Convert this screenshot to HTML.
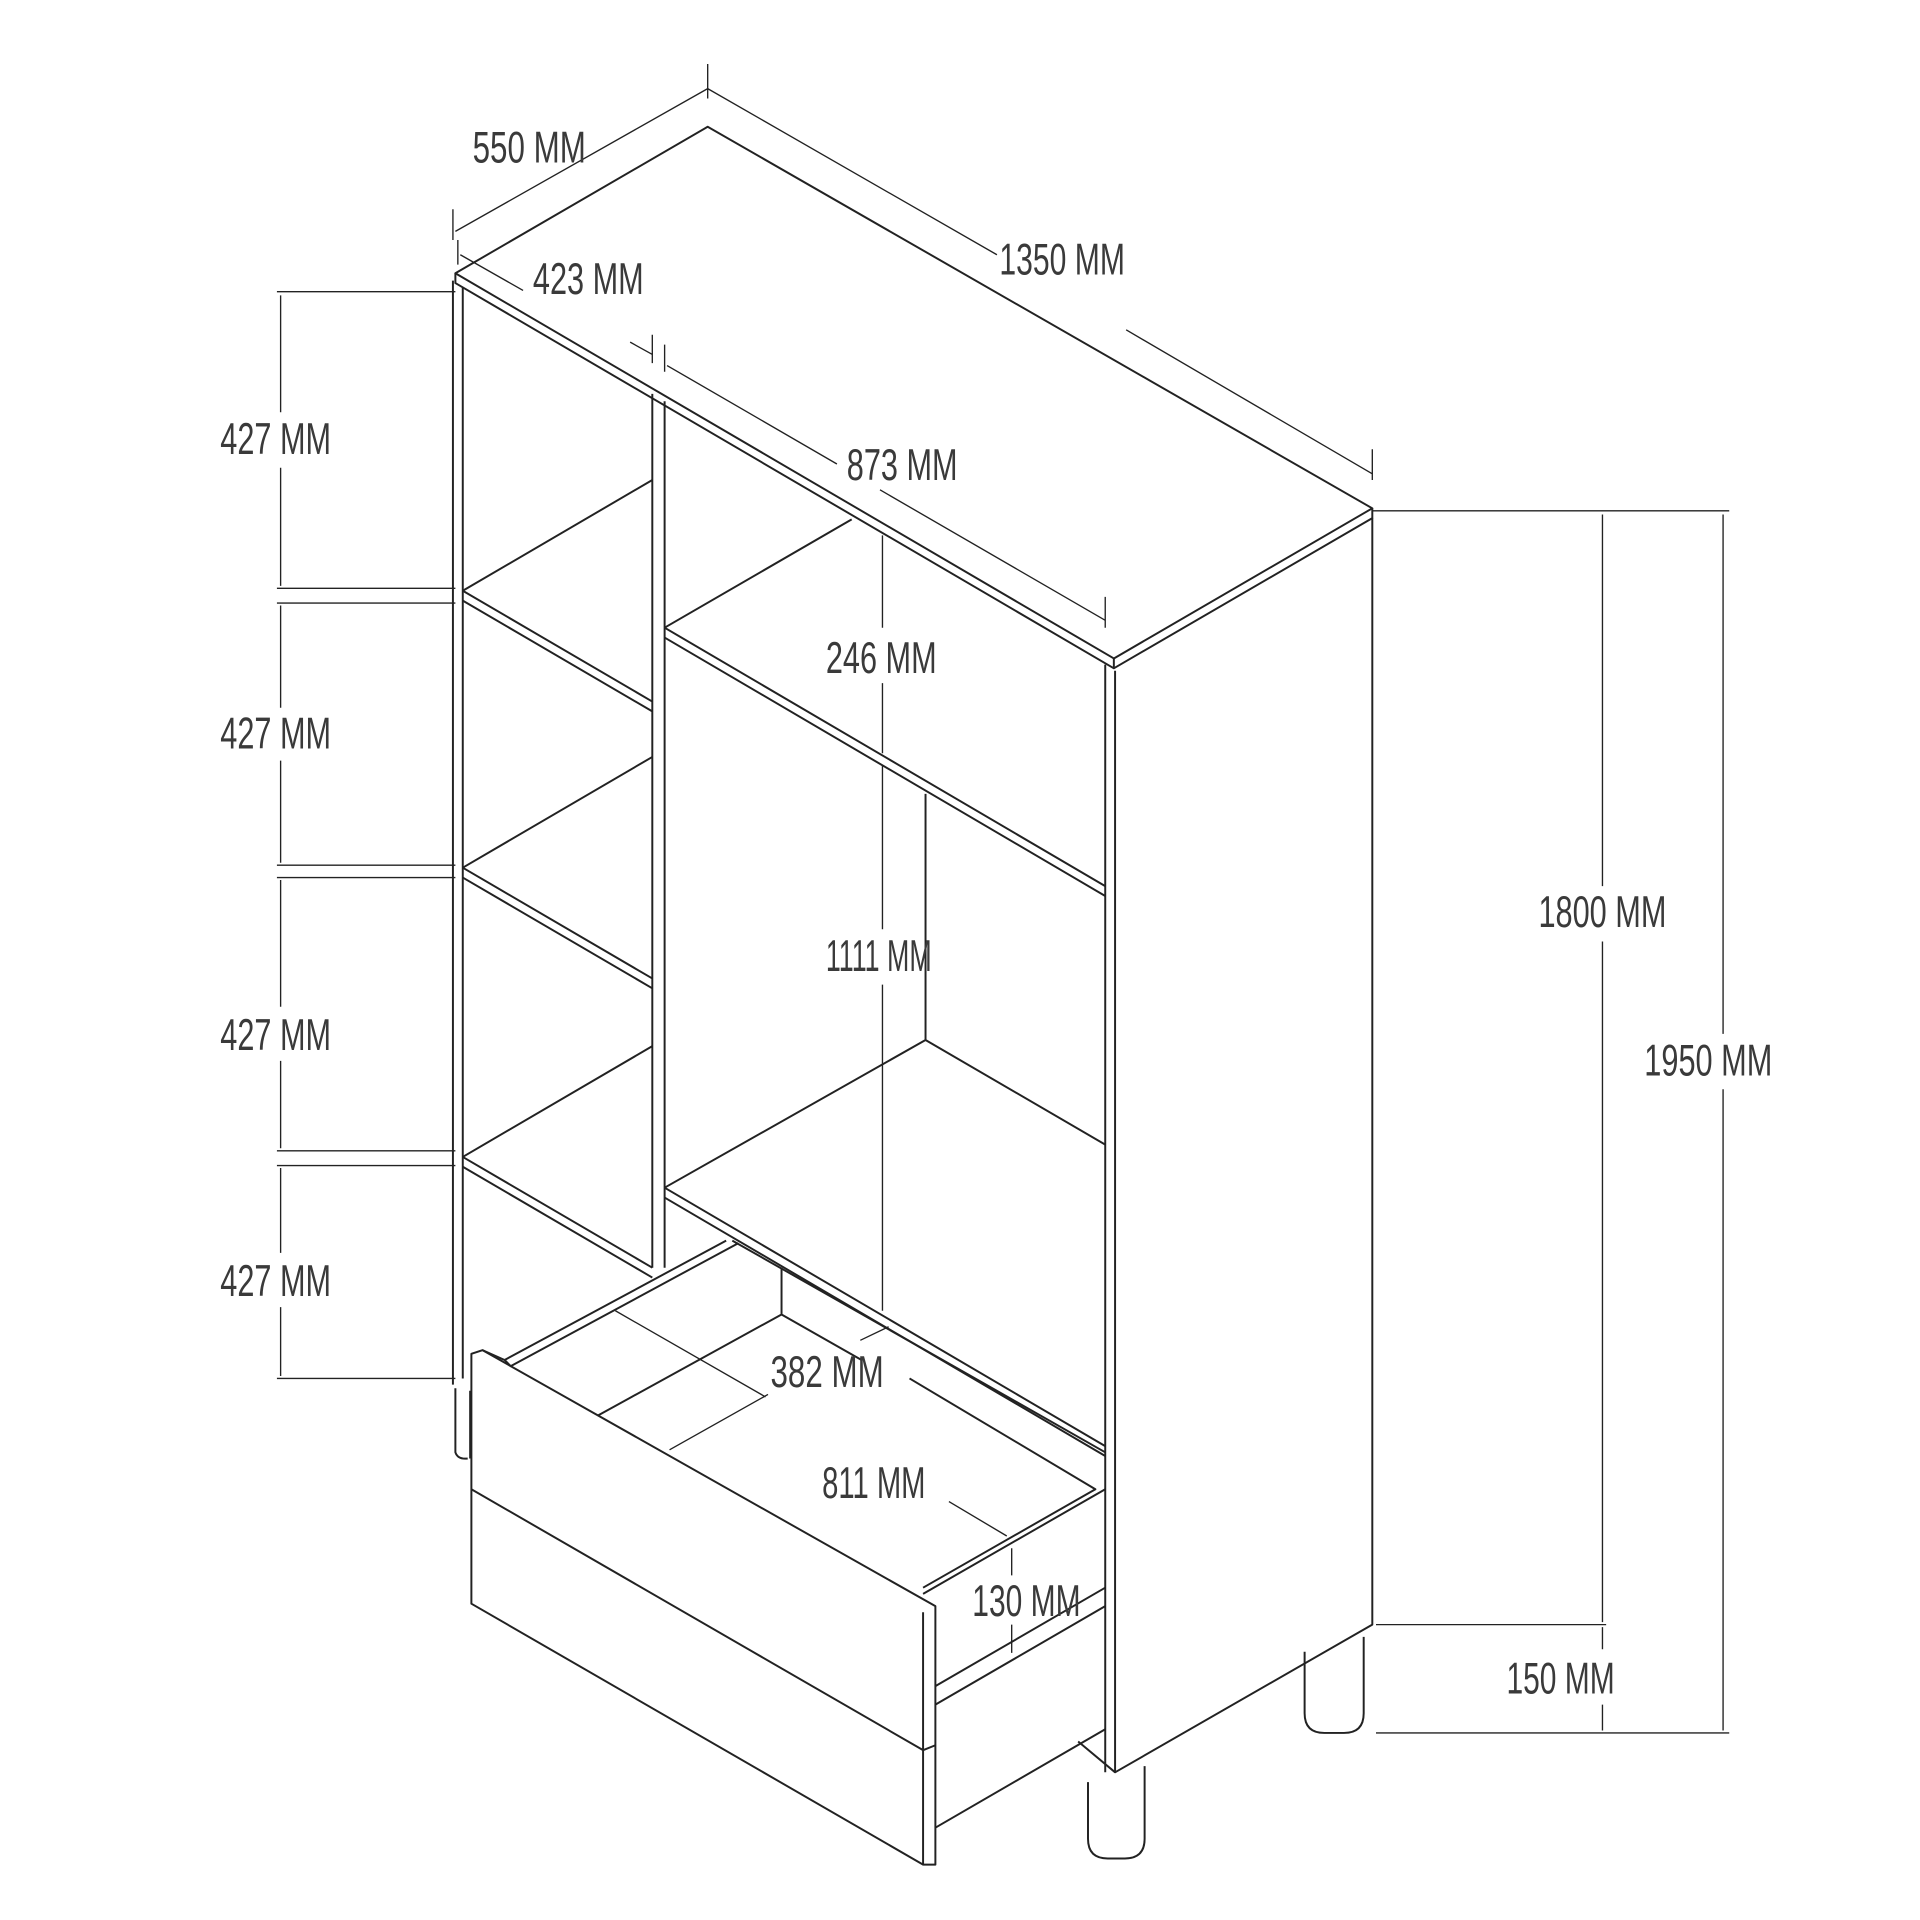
<!DOCTYPE html>
<html><head><style>html,body{margin:0;padding:0;background:#fff}svg{display:block}</style></head>
<body>
<svg width="1920" height="1920" viewBox="0 0 1560 1560" xmlns="http://www.w3.org/2000/svg">
<defs><marker id="a" viewBox="0 0 10 10" refX="10" refY="5" markerWidth="6" markerHeight="6" orient="auto-start-reverse"><path d="M0,1 L10,5 L0,9" fill="none" stroke="#222" stroke-width="1.2"/></marker></defs>
<g fill="none" stroke="#222" stroke-width="1.6" stroke-linejoin="round">
<path d="M370,222 L575,103 L1115,413 L905,535 Z" fill="#fff"/>
<path d="M370,222 L370,230 L905,543 L1115,421 L1115,413"/>
<path d="M905,535 L905,543"/>
<path d="M368,228 L368,1125 M376,234 L376,1120"/>
<path d="M530,320 L530,1030 M540,326 L540,1030"/>
<path d="M898,540 L898,1440 M906,545 L906,1440 L1115,1320 L1115,421"/>
<path d="M376,480 L530,570 M376,488 L530,578 M376,480 L530,390"/>
<path d="M376,705 L530,795 M376,713 L530,803 M376,705 L530,615"/>
<path d="M376,940 L530,1030 M376,948 L530,1038 M376,940 L530,850"/>
<path d="M540,510 L898,720 M540,518 L898,728 M540,510 L692,422"/>
<path d="M752,645 L752,845 L898,930 M540,965 L752,845 M540,965 L898,1175 M540,973 L898,1183"/>
<path d="M383,1100 L392,1097 L760,1305 L760,1515 L750,1515 L383,1303 Z" fill="#fff"/>
<path d="M750,1310 L750,1515 M383,1210 L750,1422 L760,1418"/>
<path d="M392,1097 L410,1105 L590,1008 M410,1105 L415,1110 L600,1010"/>
<path d="M595,1008 L898,1180"/>
<path d="M635,1030 L635,1068 L486,1150 M635,1068 L700,1105 M739,1120 L890,1210 L750,1290 M898,1210 L750,1295"/>
<path d="M760,1370 L898,1290 M760,1385 L898,1305 M760,1485 L898,1405 M876,1415 L906,1440"/>
<path d="M1060,1342 L1060,1392 Q1060,1408 1076,1408 L1092,1408 Q1108,1408 1108,1392 L1108,1330"/>
<path d="M884,1448 L884,1494 Q884,1510 900,1510 L914,1510 Q930,1510 930,1494 L930,1435"/>
<path d="M370,1128 L370,1180 Q372,1186 380,1185 M382,1130 L382,1185"/>
</g>
<g fill="none" stroke="#222" stroke-width="1.1">
<path d="M225,237 L370,237 M225,478 L370,478 M225,490 L370,490 M225,703 L370,703 M225,713 L370,713 M225,935 L370,935 M225,947 L370,947 M225,1120 L370,1120"/>
<path d="M228,240 L228,335 M228,380 L228,476"/>
<path d="M228,492 L228,575 M228,618 L228,701"/>
<path d="M228,715 L228,818 M228,862 L228,933"/>
<path d="M228,949 L228,1018 M228,1062 L228,1118"/>
<path d="M1115,415 L1405,415 M1118,1320 L1305,1320 M1118,1408 L1405,1408"/>
<path d="M1302,418 L1302,720 M1302,765 L1302,1318 M1302,1322 L1302,1340 M1302,1385 L1302,1406"/>
<path d="M1400,418 L1400,840 M1400,885 L1400,1406"/>
<path d="M368,170 L368,195 M575,52 L575,80 M1115,365 L1115,390 M372,195 L372,215 M530,272 L530,295 M540,280 L540,302 M898,485 L898,510"/>
<path d="M370,188 L575,72 M575,72 L810,207 M915,268 L1115,385"/>
<path d="M374,207 L425,236 M512,278 L530,288"/>
<path d="M542,297 L680,377 M715,398 L898,504"/>
<path d="M717,435 L717,510 M717,555 L717,612 M717,622 L717,755 M717,800 L717,1065"/>
<path d="M500,1065 L622,1135 M771,1220 L818,1248 M544,1178 L624,1133 M699,1089 L722,1078"/>
<path d="M822,1258 L822,1280 M822,1320 L822,1343"/>
</g>
<g font-family="'Liberation Sans Narrow','Liberation Sans',sans-serif" font-size="36" fill="#3a3a3a" text-anchor="middle" lengthAdjust="spacingAndGlyphs">
<text x="430" y="132" textLength="92" lengthAdjust="spacingAndGlyphs">550 MM</text>
<text x="863" y="223" textLength="102" lengthAdjust="spacingAndGlyphs">1350 MM</text>
<text x="478" y="239" textLength="90" lengthAdjust="spacingAndGlyphs">423 MM</text>
<text x="733" y="390" textLength="90" lengthAdjust="spacingAndGlyphs">873 MM</text>
<text x="716" y="547" textLength="90" lengthAdjust="spacingAndGlyphs">246 MM</text>
<text x="714" y="789" textLength="86" lengthAdjust="spacingAndGlyphs">1111 MM</text>
<text x="672" y="1127" textLength="92" lengthAdjust="spacingAndGlyphs">382 MM</text>
<text x="710" y="1217" textLength="84" lengthAdjust="spacingAndGlyphs">811 MM</text>
<text x="834" y="1313" textLength="88" lengthAdjust="spacingAndGlyphs">130 MM</text>
<text x="224" y="369" textLength="90" lengthAdjust="spacingAndGlyphs">427 MM</text>
<text x="224" y="608" textLength="90" lengthAdjust="spacingAndGlyphs">427 MM</text>
<text x="224" y="853" textLength="90" lengthAdjust="spacingAndGlyphs">427 MM</text>
<text x="224" y="1053" textLength="90" lengthAdjust="spacingAndGlyphs">427 MM</text>
<text x="1302" y="753" textLength="104" lengthAdjust="spacingAndGlyphs">1800 MM</text>
<text x="1388" y="874" textLength="104" lengthAdjust="spacingAndGlyphs">1950 MM</text>
<text x="1268" y="1376" textLength="88" lengthAdjust="spacingAndGlyphs">150 MM</text>
</g>
</svg>
</body></html>
